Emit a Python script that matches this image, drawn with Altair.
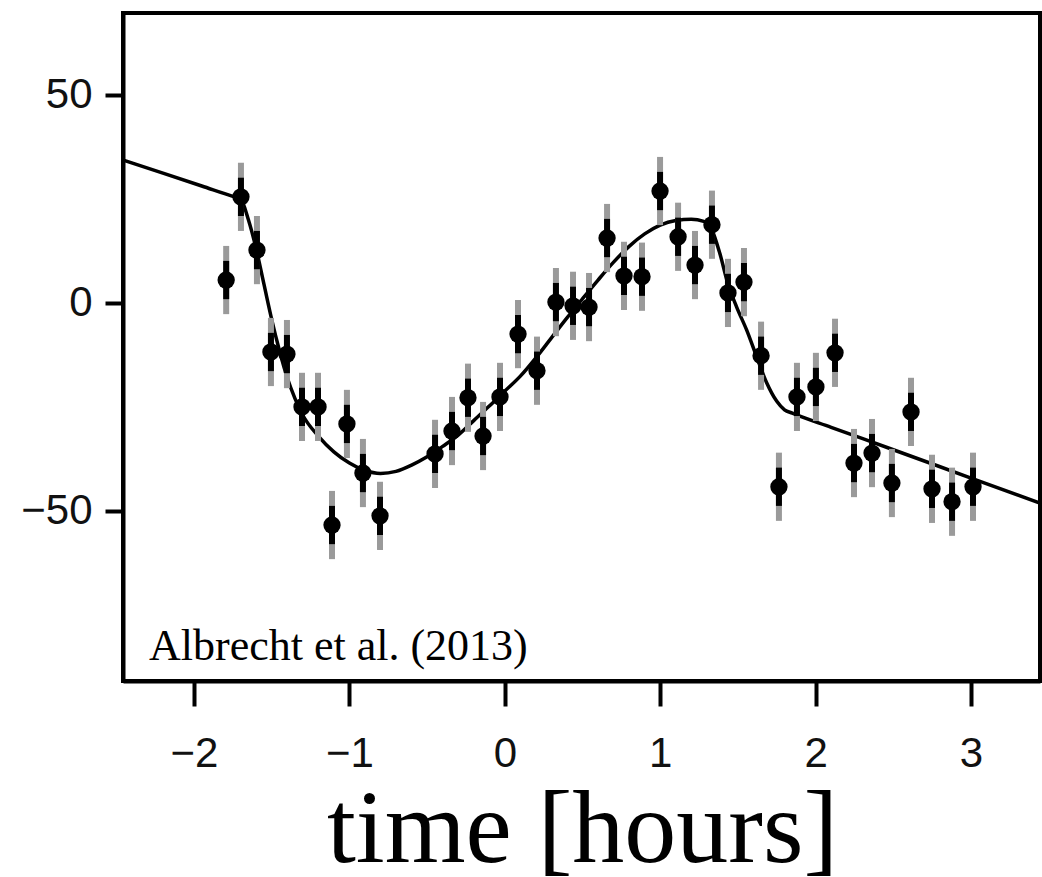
import altair as alt
import pandas as pd

# Observed radial velocity points (time in hours, RV)
t_obs = [-1.793, -1.698, -1.595, -1.505, -1.402, -1.305, -1.202, -1.112, -1.016, -0.913,
         -0.803, -0.449, -0.340, -0.237, -0.140, -0.031, 0.085, 0.207, 0.329, 0.439,
         0.542, 0.658, 0.767, 0.883, 0.999, 1.115, 1.224, 1.333, 1.436, 1.539,
         1.649, 1.764, 1.880, 2.002, 2.125, 2.247, 2.363, 2.491, 2.614, 2.749,
         2.878, 3.013]
v_obs = [5.5, 25.5, 12.7, -11.8, -12.3, -25.0, -25.0, -53.4, -29.1, -40.9,
         -51.2, -36.3, -30.8, -22.8, -32.0, -22.6, -7.5, -16.3, 0.2, -0.7,
         -1.0, 15.6, 6.5, 6.3, 26.9, 15.9, 9.1, 18.8, 2.4, 5.0,
         -12.7, -44.2, -22.6, -20.2, -12.0, -38.5, -36.1, -43.3, -26.2, -44.7,
         -47.8, -44.2]
err_outer = 8.2
err_inner = 4.6

# Model curve
t_model = [-2.46, -2.20, -1.95, -1.75, -1.70, -1.65, -1.60, -1.55, -1.50, -1.45,
           -1.40, -1.35, -1.30, -1.20, -1.10, -1.00, -0.90, -0.80, -0.70, -0.60,
           -0.50, -0.40, -0.30, -0.20, -0.10, 0.00, 0.10, 0.20, 0.30, 0.40,
           0.50, 0.60, 0.70, 0.80, 0.90, 1.00, 1.10, 1.20, 1.28, 1.333,
           1.383, 1.434, 1.492, 1.556, 1.621, 1.685, 1.749, 1.800, 1.850, 2.10,
           2.50, 3.00, 3.45]
v_model = [34.4, 31.2, 28.1, 25.6, 25.0, 20.0, 13.0, 4.5, -4.0, -11.5,
           -18.0, -23.0, -27.0, -32.0, -35.8, -38.5, -40.3, -41.0, -40.5, -39.0,
           -37.0, -34.5, -31.8, -28.3, -24.8, -21.2, -17.6, -13.2, -8.4, -3.6,
           1.0, 5.5, 9.8, 13.6, 16.6, 18.7, 19.8, 20.1, 19.6, 17.5,
           12.0, 4.8, -1.0, -6.5, -13.0, -19.2, -23.6, -25.7, -26.5, -29.9,
           -35.3, -42.1, -48.2]

x_ticks = [-2, -1, 0, 1, 2, 3]
y_ticks = [-50, 0, 50]
x_dom = [-2.457, 3.444]
y_dom = [-90.9, 69.7]

obs = pd.DataFrame({"t": t_obs, "v": v_obs})
obs["lo_o"] = obs["v"] - err_outer
obs["hi_o"] = obs["v"] + err_outer
obs["lo_i"] = obs["v"] - err_inner
obs["hi_i"] = obs["v"] + err_inner
model = pd.DataFrame({"t": t_model, "v": v_model})

xs = alt.Scale(domain=x_dom, nice=False, zero=False)
ys = alt.Scale(domain=y_dom, nice=False, zero=False)

xax = alt.Axis(values=x_ticks, format="d", tickSize=25, tickWidth=4, tickColor="black",
               domainColor="black", domainWidth=4, grid=False,
               labelFont="Liberation Sans", labelFontSize=42, labelColor="#111",
               labelBaseline="alphabetic", labelPadding=60, labelFlush=False,
               title="time [hours]", titleFont="Liberation Serif", titleFontSize=104,
               titleFontWeight="normal", titleColor="black", titleBaseline="alphabetic",
               titleAlign="center", titleX=459, titleY=180)
yax = alt.Axis(values=y_ticks, format="d", tickSize=18, tickWidth=4, tickColor="black",
               domainColor="black", domainWidth=4, grid=False,
               labelFont="Liberation Sans", labelFontSize=42, labelColor="#111",
               labelPadding=13, title=None)

line = alt.Chart(model).mark_line(color="black", strokeWidth=3.5, interpolate="monotone",
                                  clip=True).encode(
    x=alt.X("t:Q", scale=xs, axis=xax),
    y=alt.Y("v:Q", scale=ys, axis=yax),
)
outer = alt.Chart(obs).mark_rule(color="#9a9a9a", strokeWidth=6).encode(
    x=alt.X("t:Q", scale=xs), y=alt.Y("lo_o:Q", scale=ys), y2="hi_o:Q")
inner = alt.Chart(obs).mark_rule(color="black", strokeWidth=6).encode(
    x=alt.X("t:Q", scale=xs), y=alt.Y("lo_i:Q", scale=ys), y2="hi_i:Q")
pts = alt.Chart(obs).mark_circle(color="black", opacity=1, size=300).encode(
    x=alt.X("t:Q", scale=xs), y=alt.Y("v:Q", scale=ys))
note = alt.Chart(pd.DataFrame({"txt": ["Albrecht et al. (2013)"]})).mark_text(
    font="Liberation Serif", fontSize=44, align="left", baseline="alphabetic",
    color="black").encode(x=alt.value(26), y=alt.value(647), text="txt:N")

chart = alt.layer(line, outer, inner, pts, note).properties(
    width=917, height=668,
    autosize=alt.AutoSizeParams(type="none"),
    padding={"left": 123, "top": 13, "right": 2, "bottom": 196},
    background="white",
).configure_view(stroke="black", strokeWidth=4)

chart.save("out.html", embed_options={"renderer": "svg", "actions": False})
